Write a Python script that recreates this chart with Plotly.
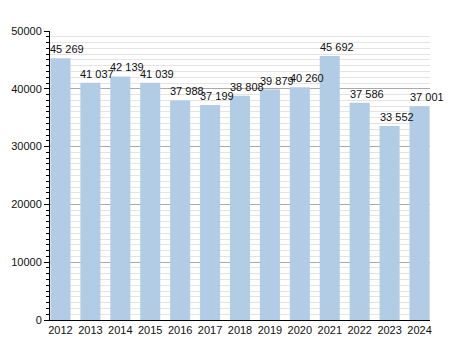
import plotly.graph_objects as go

years = ["2012", "2013", "2014", "2015", "2016", "2017", "2018", "2019", "2020", "2021", "2022", "2023", "2024"]
values = [45269, 41037, 42139, 41039, 37988, 37199, 38808, 39879, 40260, 45692, 37586, 33552, 37001]
labels = [f"{v:,}".replace(",", " ") for v in values]

fig = go.Figure()
fig.add_trace(go.Bar(
    x=years, y=values, width=0.67,
    marker=dict(color="#b3cce6", line=dict(width=0)),
    hoverinfo="skip",
))

for i, (v, t) in enumerate(zip(values, labels)):
    fig.add_annotation(x=i, y=v, text=t, showarrow=False, xanchor="center", yanchor="bottom",
                       xshift=7, yshift=1, font=dict(family="Liberation Sans, Arial", size=11, color="#111111"))

fig.update_layout(
    width=450, height=350,
    margin=dict(l=50, r=20, t=31, b=30),
    paper_bgcolor="white", plot_bgcolor="white",
    showlegend=False,
    font=dict(family="Liberation Sans, Arial", size=11, color="#111111"),
    xaxis=dict(
        type="category", range=[-0.35, 12.35],
        showline=True, linecolor="black", linewidth=1,
        ticks="", showgrid=False, tickfont=dict(size=11),
    ),
    yaxis=dict(
        range=[0, 50000], dtick=10000, tick0=0, tickformat="d",
        showline=True, linecolor="black", linewidth=1,
        ticks="outside", ticklen=5, tickcolor="black",
        showgrid=True, gridcolor="#aaaaaa", gridwidth=1,
        zeroline=False, tickfont=dict(size=11),
        minor=dict(dtick=1000, ticks="outside", ticklen=3, tickcolor="black",
                   showgrid=True, gridcolor="#e4e4e4", gridwidth=1),
    ),
    bargap=0.33,
)

fig.write_html("out.html")
